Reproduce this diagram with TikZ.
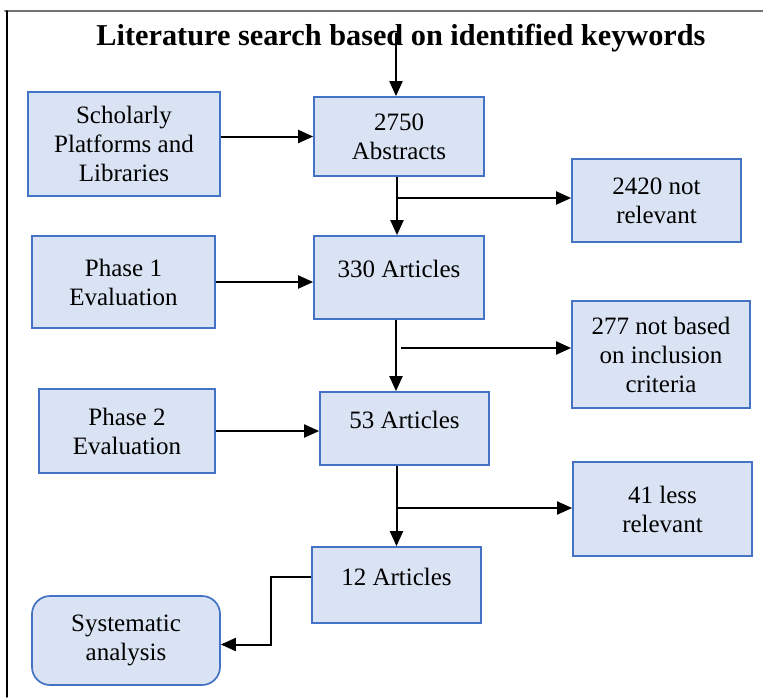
\documentclass[tikz,border=0pt]{standalone}
\usepackage{fontspec}
\setmainfont{Liberation Serif}
\usepackage{xcolor}
\definecolor{myfill}{RGB}{218,227,243}
\definecolor{myedge}{RGB}{68,114,196}
\usetikzlibrary{arrows.meta}
\begin{document}
\begin{tikzpicture}[x=1pt,y=-1pt,line cap=round]
	\tikzstyle{kuang}=[draw=myedge,fill=myfill,line width=1.7pt,align=center,inner sep=2pt,font=\fontsize{25}{29}\selectfont];
	\tikzstyle{dan}=[text depth=17pt];
	\tikzstyle{jian}=[line width=2pt,line cap=butt,-{Triangle[length=15pt,width=13pt]}];
	\useasboundingbox (0,0) rectangle (763,697);
	\draw[line width=2pt,draw=black!55] (5,11) -- (763,11);
	\draw[line width=1.4pt] (7,11) -- (7,697);
	\node (title) at (401,38) {\fontsize{30.3}{34}\selectfont\bfseries Literature search based on identified keywords};
	\node[kuang,minimum width=192pt,minimum height=104pt] (schol) at (124,144) {Scholarly\\Platforms and\\Libraries};
	\node[kuang,minimum width=170pt,minimum height=79pt]  (abst)  at (399,136.5) {2750\\Abstracts};
	\node[kuang,minimum width=169pt,minimum height=83pt]  (nrel1) at (656.5,200.5) {2420 not\\relevant};
	\node[kuang,minimum width=183pt,minimum height=92pt]  (ph1)   at (123.5,282) {Phase 1\\Evaluation};
	\node[kuang,dan,minimum width=170pt,minimum height=83pt] (a330) at (399,277.5) {330 Articles};
	\node[kuang,minimum width=178pt,minimum height=107pt] (nrel2) at (661,354.5) {277 not based\\on inclusion\\criteria};
	\node[kuang,minimum width=176pt,minimum height=84pt]  (ph2)   at (127,431) {Phase 2\\Evaluation};
	\node[kuang,dan,minimum width=169pt,minimum height=73pt] (a53) at (404.5,428.5) {53 Articles};
	\node[kuang,minimum width=179pt,minimum height=94pt]  (nrel3) at (662.5,509) {41 less\\relevant};
	\node[kuang,dan,minimum width=169pt,minimum height=76pt] (a12) at (396.5,585) {12 Articles};
	\node[kuang,rounded corners=18pt,minimum width=188pt,minimum height=89pt] (sys) at (126,640.5) {Systematic\\analysis};
	\coordinate (t) at (396,33);
	\coordinate (b1) at (397,198);
	\coordinate (b2) at (401,348);
	\coordinate (b3) at (397,508);
	\draw[jian] (t) -- (t |- abst.north);
	\draw[jian] (schol.east |- abst.west) -- (abst.west);
	\draw[jian] ([xshift=-2pt]abst.south) -- ([xshift=-2pt]a330.north);
	\draw[jian] (b1) -- (b1 -| nrel1.west);
	\draw[jian] (ph1.east) -- (ph1.east -| a330.west);
	\draw[jian] ([xshift=-3pt]a330.south) -- ([xshift=-3pt]a330.south |- a53.north);
	\draw[jian] (b2) -- (b2 -| nrel2.west);
	\draw[jian] (ph2.east) -- (ph2.east -| a53.west);
	\draw[jian] (a12.north |- a53.south) -- (a12.north);
	\draw[jian] (b3) -- (b3 -| nrel3.west);
	\draw[jian] ([yshift=8pt]a12.west) -- ++(-40,0) |- ([yshift=-4pt]sys.east);
\end{tikzpicture}
\end{document}
